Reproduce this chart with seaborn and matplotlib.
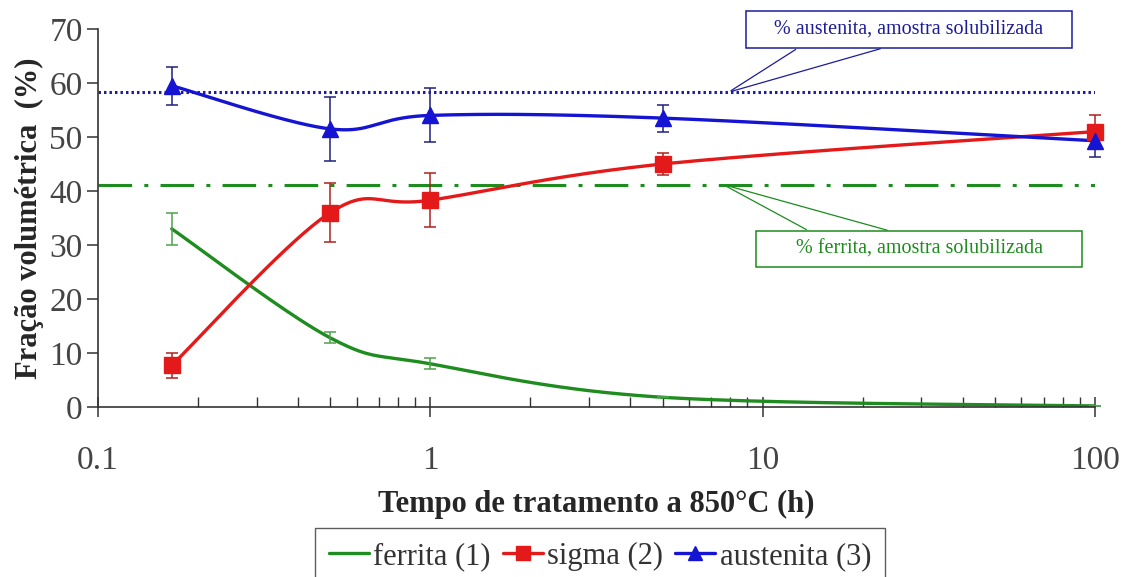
import numpy as np
import pandas as pd
import seaborn as sns
import matplotlib
matplotlib.use('Agg')
import matplotlib.pyplot as plt
from matplotlib.lines import Line2D
from matplotlib.patches import Rectangle

# data
tempo = [1 / 6, 0.5, 1, 5, 100]
ferrita = [33.0, 12.8, 8.0, 1.8, 0.2]
ferrita_err = [3.0, 1.0, 1.0, 0.0, 0.0]
sigma = [7.7, 36.0, 38.3, 45.0, 51.0]
sigma_err = [2.3, 5.5, 5.0, 2.0, 3.0]
austenita = [59.5, 51.5, 54.0, 53.5, 49.3]
austenita_err = [3.5, 6.0, 5.0, 2.5, 3.0]
ref_austenita = 58.3
ref_ferrita = 41.2

GREEN = '#1e8c1e'
RED = '#e41a1a'
BLUE = '#1414d2'
NAVY = '#1c1c9a'


def smooth(xs, ys, n=40):
    # Excel-like smoothed line: Catmull-Rom bezier in (log x, y)
    u = np.log10(xs)
    v = np.asarray(ys, float)
    pts = np.column_stack([u, v])
    pad = np.vstack([pts[0], pts, pts[-1]])
    out = []
    t = np.linspace(0, 1, n)[:, None]
    for i in range(len(pts) - 1):
        p0, p1, p2, p3 = pad[i], pad[i + 1], pad[i + 2], pad[i + 3]
        c1 = p1 + (p2 - p0) / 6
        c2 = p2 - (p3 - p1) / 6
        seg = ((1 - t) ** 3) * p1 + 3 * ((1 - t) ** 2) * t * c1 + 3 * (1 - t) * t ** 2 * c2 + t ** 3 * p2
        out.append(seg)
    out = np.vstack(out)
    return pd.DataFrame({'x': 10 ** out[:, 0], 'y': out[:, 1]})


sns.set_theme(style='white')
plt.rcParams['font.family'] = ['Liberation Serif', 'DejaVu Serif']

fig = plt.figure(figsize=(11.22, 5.77), dpi=100)
ax = fig.add_axes([98 / 1122, 1 - 407 / 577, (1095 - 98) / 1122, (407 - 29) / 577])

# reference lines
ax.axhline(ref_austenita, color=NAVY, lw=2.2, linestyle=(0, (0.8, 1.0)))
ax.axhline(ref_ferrita, color=GREEN, lw=2.2, linestyle=(0, (11, 4, 1.3, 4)))

series = [
    (ferrita, ferrita_err, GREEN, '#4ea04e', None),
    (sigma, sigma_err, RED, '#b02020', 's'),
    (austenita, austenita_err, BLUE, '#202080', '^'),
]
for vals, err, col, ecol, mk in series:
    curve = smooth(tempo, vals)
    sns.lineplot(data=curve, x='x', y='y', ax=ax, color=col, lw=2.4, sort=False, estimator=None)
    eb = ax.errorbar(tempo, vals, yerr=err, fmt='none', ecolor=ecol, elinewidth=1.1, capsize=4, capthick=1.1)
    for art in eb.lines[1] + eb.lines[2]:
        art.set_clip_on(False)
    if mk:
        ax.plot(tempo, vals, linestyle='none', marker=mk, ms=12, color=col, mec=col, clip_on=False, zorder=5)

ax.set_xscale('log')
ax.set_xlim(0.1, 100)
ax.set_ylim(0, 70)
ax.set_yticks(range(0, 71, 10))
ax.set_xticks([0.1, 1, 10, 100])
ax.set_xticklabels(['0.1', '1', '10', '100'])

sns.despine(ax=ax)
for s in ['left', 'bottom']:
    ax.spines[s].set_color('#333333')
    ax.spines[s].set_linewidth(1.2)

ax.tick_params(axis='y', which='major', direction='out', length=8, width=1.1, color='#333333',
               labelsize=24, pad=3, labelcolor='#444444', left=True)
ax.tick_params(axis='x', which='major', direction='inout', length=14, width=1.1, color='#333333',
               labelsize=24, pad=21, labelcolor='#444444', bottom=True)
ax.tick_params(axis='x', which='minor', direction='in', length=7, width=1, color='#333333', bottom=True)

ax.set_xlabel('Tempo de tratamento a 850°C (h)', fontsize=22, fontweight='bold', labelpad=10)
ax.set_ylabel('Fração volumétrica  (%)', fontsize=22, fontweight='bold', labelpad=4)

# callout boxes
W, H = 1122, 577


def fig_box(x0, y0, x1, y1, col, txt):
    fig.patches.append(Rectangle((x0 / W, 1 - y1 / H), (x1 - x0) / W, (y1 - y0) / H,
                                 transform=fig.transFigure, fill=False, ec=col, lw=1.1))
    fig.text((x0 + x1) / 2 / W, 1 - (y0 + y1) / 2 / H, txt, ha='center', va='center',
             color=col, fontsize=14.5)


fig_box(746, 11, 1072, 48, NAVY, '% austenita, amostra solubilizada')
fig_box(756, 231, 1082, 267, GREEN, '% ferrita, amostra solubilizada')

for sx in [798, 883]:
    ax.annotate('', xy=(7.9, ref_austenita), xycoords='data', xytext=(sx, H - 48),
                textcoords='figure pixels', arrowprops=dict(arrowstyle='-', color=NAVY, lw=0.9))
for sx in [809, 890]:
    ax.annotate('', xy=(7.6, ref_ferrita), xycoords='data', xytext=(sx, H - 231),
                textcoords='figure pixels', arrowprops=dict(arrowstyle='-', color=GREEN, lw=0.9))

handles = [
    Line2D([], [], color=GREEN, lw=2.4),
    Line2D([], [], color=RED, lw=2.4, marker='s', ms=10),
    Line2D([], [], color=BLUE, lw=2.4, marker='^', ms=10),
]
leg = fig.legend(handles, ['ferrita (1)', 'sigma (2)', 'austenita (3)'], loc='upper center',
                 bbox_to_anchor=(600 / W, 1 - 528 / H), ncol=3, fontsize=22, frameon=True,
                 fancybox=False, edgecolor='#333333', handlelength=1.3, handletextpad=0.15,
                 columnspacing=0.4, borderpad=0.45, borderaxespad=0)
leg.get_frame().set_linewidth(1.0)
for t in leg.get_texts():
    t.set_color('#333333')

fig.savefig('out.png', dpi=100)
